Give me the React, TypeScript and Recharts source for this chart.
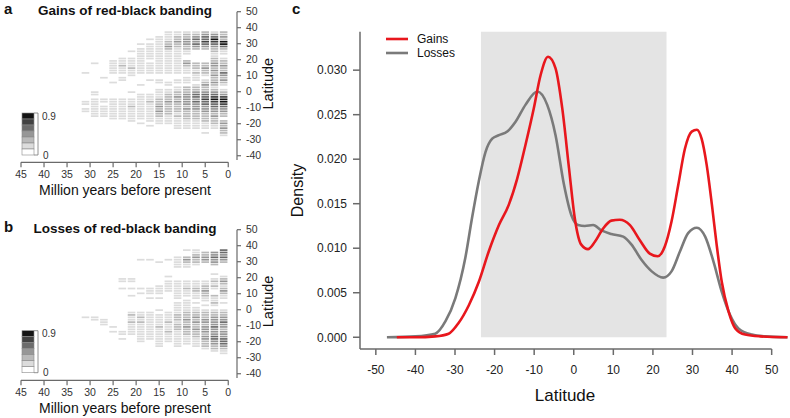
import React from 'react'
import {
  ScatterChart,
  Scatter,
  LineChart,
  Line,
  XAxis,
  YAxis,
  ReferenceArea,
  ReferenceLine,
} from 'recharts'

const FONT = '"Liberation Sans", Arial, Helvetica, sans-serif'

// ---- panels a / b : occurrence grids (time bin x latitude bin) ----
const timeBins = [1, 3, 5, 7, 9, 11, 13, 15, 17, 19, 21, 23, 25, 27, 29, 31]
const latBins = [
  37.25, 35.75, 34.25, 32.75, 31.25, 29.75, 28.25, 26.75, 25.25, 23.75, 22.25,
  20.75, 19.25, 17.75, 16.25, 14.75, 13.25, 11.75, 10.25, 8.75, 7.25, 5.75,
  4.25, 2.75, 1.25, -0.25, -1.75, -3.25, -4.75, -6.25, -7.75, -9.25, -10.75,
  -12.25, -13.75, -15.25, -16.75, -18.25, -19.75, -21.25, -22.75, -24.25,
  -25.75, -27.25,
]
const timeTicks = [0, 5, 10, 15, 20, 25, 30, 35, 40, 45]
const latTicks = [-40, -30, -20, -10, 0, 10, 20, 30, 40, 50]

// one string per time bin, chars run north -> south over latBins, '.' = empty, 1..6 = shade
const gainsGrid = [
  '2232 6642 11.1 2232 2432 321. 1235 6654 3322 .232 3221',
  '1346 5432 2112 2332 3232 2321 2345 6544 3323 2221 1...',
  '2344 5432 .... .223 221. 1232 2344 5443 3322 2211 1.1.',
  '1234 3432 .... .222 1211 1.12 2344 3433 3222 2111 1...',
  '1223 3322 11.. 2321 11.1 11.2 2233 3332 3222 2111 1...',
  '1122 3221 1111 1111 11.. 11.1 1223 2322 2212 1111 1...',
  '1111 2232 1111 1111 11.. .11. 1122 2322 2221 111. ....',
  '..11 1111 1111 1111 11.. 11.. 1111 2223 2322 111. ....',
  '...1 .111 1111 .111 11.. 1... ..11 1211 1111 11.1 ....',
  '.... .1.1 1111 1111 11.. ..1. ..11 1111 1111 1.1. ....',
  '.... .... 1..1 1112 111. .... .1.. 1112 1111 11.. ....',
  '.... .... ...1 1121 11.1 1... .... 1111 1111 1... ....',
  '.... .... .... 1111 11.. .1.. .... 1111 1111 1... ....',
  '.... .... .... .... ...1 .... .... 11.1 1111 .... ....',
  '.... .... .... .1.. .... .... .11. 1111 1111 .... ....',
  '.... .... .... .... .1.. .... .... .11. 11.. .... ....',
]
const lossesGrid = [
  '4434 32.. ...1 2321 2321 1.1. .122 3343 3233 3444 3211',
  '.334 332. ..1. 1212 1..2 1121 .122 3333 4333 4433 221.',
  '.223 32.. .... .112 2322 11.1 .122 2332 3332 3322 21..',
  '1123 221. .... .111 2211 1.1. 1122 3232 2322 2111 1...',
  '1..2 3211 .... .111 2111 .111 1122 2322 3222 1111 ....',
  '...1 1111 .... .111 1111 1.11 1112 2212 2211 1111 1...',
  '.... 1... ...1 .111 11.. .... ..11 1121 1121 111. ....',
  '.... .1.. .... ...1 111. 1... .1.1 1111 2111 1111 1...',
  '.... 1... .... .... 111. 1... ..11 1111 1111 11.. ....',
  '.... 1... .... .... 1.1. .... ..11 2121 1111 111. ....',
  '.... .... .... 11.. 1..1 .... ..12 1121 1111 .... ....',
  '.... .... .... 11.. 1... .... .... .... ..11 .1.. ....',
  '.... .... .... .... .... .... .... .... 1.1. .... ....',
  '.... .... .... .... .... .... .... .111 .... .... ....',
  '.... .... .... .... .... .... .... 11.. .... .... ....',
  '.... .... .... .... .... .... .... 1... .... .... ....',
]
const shadeColors = ['#ffffff', '#dcdcdc', '#bababa', '#979797', '#6c6c6c', '#424242', '#141414']
const shadeLabels = ['0', '0.9']

// ---- panel c : kernel densities ----
const gainsLat = [
  -44.7, -40, -35, -31.6, -29.1, -26.5, -24, -21.5, -18.9, -16.4, -14.3, -12.2,
  -10.1, -8.4, -6.5, -4.6, -2.9, -1.2, 0.25, 1.9, 3.6, 5.3, 7.4, 9.5, 11.6,
  14.2, 16.7, 19.2, 21.2, 23, 24.7, 26.4, 28.1, 29.8, 31.1, 32.3, 33.6, 34.9,
  36.1, 37.4, 39.1, 40.8, 43.3, 47, 54,
]
const gainsDensity = [
  0, 0, 0.0001, 0.0004, 0.0016, 0.0036, 0.0062, 0.0096, 0.0126, 0.0149, 0.0178,
  0.0216, 0.0257, 0.0294, 0.0315, 0.0302, 0.0257, 0.019, 0.0134, 0.0104,
  0.0099, 0.0107, 0.0122, 0.0131, 0.0132, 0.0126, 0.0109, 0.0094, 0.0091,
  0.0102, 0.013, 0.0171, 0.0212, 0.0231, 0.0233, 0.0223, 0.0193, 0.0149,
  0.0104, 0.0062, 0.0029, 0.001, 0.0003, 0.0001, 0,
]
const lossesLat = [
  -47.2, -40, -35, -32.4, -29.9, -27.4, -25.7, -24, -22.3, -20.6, -18.9,
  -16.8, -14.7, -12.2, -9.2, -6.7, -4.6, -2.5, -0.6, 1.1, 2.8, 4.9, 7, 9.5,
  12.5, 14.6, 17.1, 19.7, 22.6, 24.7, 26.8, 28.9, 31.1, 33.2, 35.3, 37.4, 39.5,
  41.6, 45, 48.4, 54,
]
const lossesDensity = [
  0, 0.0001, 0.0004, 0.0018, 0.0044, 0.0089, 0.0134, 0.0175, 0.0208, 0.0223,
  0.0227, 0.0231, 0.0242, 0.0261, 0.0276, 0.0261, 0.0227, 0.0172, 0.0137,
  0.0126, 0.0125, 0.0126, 0.012, 0.0116, 0.0113, 0.0104, 0.0087, 0.0074,
  0.0067, 0.0074, 0.0096, 0.0117, 0.0123, 0.0113, 0.0085, 0.0051, 0.0025,
  0.001, 0.0003, 0.0001, 0,
]
const densityLatTicks = [-50, -40, -30, -20, -10, 0, 10, 20, 30, 40, 50]
const densityTicks = [0, 0.005, 0.01, 0.015, 0.02, 0.025, 0.03]
const tropics = [-23.44, 23.44]

function toCells(grid: string[]) {
  const cells: { t: number; lat: number; level: number }[] = []
  grid.forEach((col, c) => {
    col.replace(/ /g, '').split('').forEach((ch, r) => {
      if (ch !== '.' && r < latBins.length) {
        cells.push({ t: timeBins[c], lat: latBins[r], level: Number(ch) })
      }
    })
  })
  return cells
}

const gainsCells = toCells(gainsGrid)
const lossesCells = toCells(lossesGrid)
const gainsData = gainsLat.map((lat, i) => ({ lat, d: gainsDensity[i] }))
const lossesData = lossesLat.map((lat, i) => ({ lat, d: lossesDensity[i] }))

// heat panel geometry
const HW = 280
const HH = 200
const hMargin = { top: 11.7, right: 0, bottom: 7.7, left: 21 }
const H_YAXIS_W = 43
const H_XAXIS_H = 30
const tDomain: [number, number] = [-1.9, 45]
const latDomain: [number, number] = [-44.1, 50]
const hPlotW = HW - hMargin.left - hMargin.right - H_YAXIS_W
const hPlotH = HH - hMargin.top - hMargin.bottom - H_XAXIS_H
const cellW = (2 * hPlotW) / (tDomain[1] - tDomain[0]) - 1.6
const cellH = (1.5 * hPlotH) / (latDomain[1] - latDomain[0]) - 0.7

const axisGray = '#6a6a6a'

function HeatPanel({ cells, top }: { cells: any[]; top: number }) {
  return (
    <div style={{ position: 'absolute', left: 0, top, width: HW, height: HH }}>
      <ScatterChart width={HW} height={HH} margin={hMargin}>
        <XAxis
          type="number"
          dataKey="t"
          domain={tDomain}
          reversed
          ticks={timeTicks}
          interval={0}
          height={H_XAXIS_H}
          axisLine={false}
          tickSize={5}
          tickMargin={3}
          tickLine={{ stroke: axisGray, strokeWidth: 1.2 }}
          tick={{ fill: '#333', fontSize: 10.5, fontFamily: FONT }}
        />
        <YAxis
          type="number"
          dataKey="lat"
          orientation="right"
          domain={latDomain}
          ticks={latTicks}
          interval={0}
          width={H_YAXIS_W}
          axisLine={false}
          tickSize={4}
          tickMargin={5}
          tickLine={{ stroke: axisGray, strokeWidth: 1.2 }}
          tick={{ fill: '#333', fontSize: 10.5, fontFamily: FONT }}
        />
        <ReferenceLine
          segment={[{ x: 45, y: latDomain[0] }, { x: 0, y: latDomain[0] }]}
          stroke={axisGray}
          strokeWidth={1.2}
          ifOverflow="visible"
        />
        <ReferenceLine
          segment={[{ x: tDomain[0], y: 50 }, { x: tDomain[0], y: -42.7 }]}
          stroke={axisGray}
          strokeWidth={1.2}
          ifOverflow="visible"
        />
        <Scatter
          data={cells}
          isAnimationActive={false}
          shape={(p: any) => (
            <rect
              x={p.cx - cellW / 2}
              y={p.cy - cellH / 2}
              width={cellW}
              height={cellH}
              fill={shadeColors[p.payload.level]}
            />
          )}
        />
      </ScatterChart>
    </div>
  )
}

function HeatDecor({ oy, letter, title, ly }: { oy: number; letter: string; title: string; ly: number }) {
  const boxTop = oy + 113
  const boxH = 6
  const levels = [6, 5, 4, 3, 2, 1, 0]
  return (
    <g fontFamily={FONT} fill="#111">
      <text x={4} y={ly} fontSize={15} fontWeight="bold">{letter}</text>
      <text x={125} y={oy + 10.5} fontSize={13.5} fontWeight="bold" textAnchor="middle" dominantBaseline="central">
        {title}
      </text>
      <text x={125} y={oy + 190} fontSize={14} textAnchor="middle" dominantBaseline="central">
        Million years before present
      </text>
      <text
        x={268}
        y={oy + 83.7}
        fontSize={14.5}
        textAnchor="middle"
        dominantBaseline="central"
        transform={`rotate(-90 268 ${oy + 83.7})`}
      >
        Latitude
      </text>
      {levels.map((lv, k) => (
        <rect key={k} x={22} y={boxTop + k * boxH} width={12} height={boxH} fill={shadeColors[lv]} stroke="#8a8a8a" strokeWidth={0.6} />
      ))}
      <line x1={38} y1={boxTop} x2={38} y2={boxTop + 7 * boxH} stroke="#777" strokeWidth={0.8} />
      <line x1={34} y1={boxTop} x2={38} y2={boxTop} stroke="#777" strokeWidth={0.8} />
      <line x1={34} y1={boxTop + 7 * boxH} x2={38} y2={boxTop + 7 * boxH} stroke="#777" strokeWidth={0.8} />
      <text x={42} y={boxTop + 3} fontSize={10} dominantBaseline="central" fill="#333">{shadeLabels[1]}</text>
      <text x={43} y={boxTop + 7 * boxH} fontSize={10} dominantBaseline="central" fill="#333">{shadeLabels[0]}</text>
    </g>
  )
}

const DW = 510
const DH = 418
const dDomainY: [number, number] = [-0.00132, 0.03432]
const dDomainX: [number, number] = [-54, 54]

function DensityPanel() {
  return (
    <div style={{ position: 'absolute', left: 280, top: 0, width: DW, height: DH }}>
      <LineChart width={DW} height={DH} margin={{ top: 31.7, right: 2.5, bottom: 39, left: 20 }}>
        <XAxis
          type="number"
          dataKey="lat"
          domain={dDomainX}
          ticks={densityLatTicks}
          interval={0}
          allowDuplicatedCategory={false}
          height={30}
          axisLine={false}
          tickSize={6}
          tickMargin={10}
          tickLine={{ stroke: axisGray, strokeWidth: 1.5 }}
          tick={{ fill: '#222', fontSize: 12, fontFamily: FONT }}
        />
        <YAxis
          type="number"
          domain={dDomainY}
          ticks={densityTicks}
          interval={0}
          width={60}
          tickFormatter={(v: number) => v.toFixed(3)}
          axisLine={{ stroke: axisGray, strokeWidth: 1.5 }}
          tickSize={7}
          tickMargin={6}
          tickLine={{ stroke: axisGray, strokeWidth: 1.5 }}
          tick={{ fill: '#222', fontSize: 12, fontFamily: FONT }}
        />
        <ReferenceArea
          x1={tropics[0]}
          x2={tropics[1]}
          y1={0}
          y2={dDomainY[1]}
          fill="#e4e4e4"
          fillOpacity={1}
          stroke="none"
          ifOverflow="visible"
        />
        <ReferenceLine
          segment={[{ x: dDomainX[0], y: dDomainY[0] }, { x: 50, y: dDomainY[0] }]}
          stroke={axisGray}
          strokeWidth={1.5}
          ifOverflow="visible"
        />
        <Line
          data={lossesData}
          dataKey="d"
          type="monotone"
          stroke="#7a7a7a"
          strokeWidth={2.6}
          dot={false}
          isAnimationActive={false}
        />
        <Line
          data={gainsData}
          dataKey="d"
          type="monotone"
          stroke="#e8171d"
          strokeWidth={2.6}
          dot={false}
          isAnimationActive={false}
        />
      </LineChart>
    </div>
  )
}

export default function App() {
  return (
    <div style={{ position: 'absolute', left: 0, top: 0, width: 790, height: 418, background: '#fff', overflow: 'hidden' }}>
      <HeatPanel cells={gainsCells} top={0} />
      <HeatPanel cells={lossesCells} top={217.7} />
      <DensityPanel />
      <svg width={790} height={418} style={{ position: 'absolute', left: 0, top: 0, pointerEvents: 'none' }}>
        <HeatDecor oy={0} letter="a" title="Gains of red-black banding" ly={13.5} />
        <HeatDecor oy={217.7} letter="b" title="Losses of red-black banding" ly={232} />
        <g fontFamily={FONT} fill="#111">
          <text x={292} y={13.5} fontSize={15} fontWeight="bold">c</text>
          <text
            x={297}
            y={190.5}
            fontSize={16}
            textAnchor="middle"
            dominantBaseline="central"
            transform="rotate(-90 297 190.5)"
          >
            Density
          </text>
          <text x={565} y={395} fontSize={17} textAnchor="middle" dominantBaseline="central">Latitude</text>
          <line x1={386} y1={39} x2={408} y2={39} stroke="#e8171d" strokeWidth={2.6} />
          <text x={417} y={39} fontSize={12} dominantBaseline="central">Gains</text>
          <line x1={386} y1={53} x2={408} y2={53} stroke="#7a7a7a" strokeWidth={2.6} />
          <text x={417} y={53} fontSize={12} dominantBaseline="central">Losses</text>
        </g>
      </svg>
    </div>
  )
}
